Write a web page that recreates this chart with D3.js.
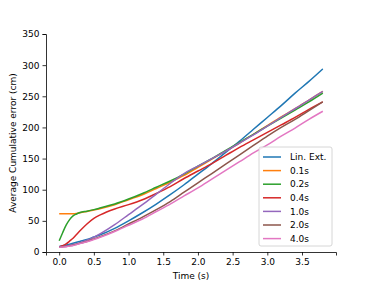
<!DOCTYPE html>
<html>
<head>
<meta charset="utf-8">
<script src="https://cdn.jsdelivr.net/npm/d3@7"></script>
<style>
  body { margin: 0; background: #fff; }
  text { font-family: "DejaVu Sans", sans-serif; }
</style>
</head>
<body>
<div id="container"></div>
<script>
var time = [0, 0.05, 0.1, 0.15, 0.2, 0.25, 0.3, 0.4, 0.5, 0.6, 0.8, 1.0, 1.2, 1.4, 1.6, 1.8, 2.0, 2.2, 2.4, 2.6, 2.8, 3.0, 3.2, 3.4, 3.6, 3.8];

var linExt = [9, 10, 11, 12.5, 14, 15.5, 17, 20, 24, 28, 38, 50, 63, 77, 92, 108, 125, 142, 160, 178, 197, 216, 235, 255, 274, 294];
var h01 = [61.5, 61.5, 61.5, 61.5, 61.5, 62, 63, 65, 67.5, 70, 76, 84, 92, 102, 112, 123, 136, 149, 162, 175, 189, 203, 217, 230, 244, 258];
var h02 = [18, 31, 43, 52, 58, 61, 63.5, 65.5, 68, 71, 77, 85, 94, 104, 114, 125, 138, 150, 163, 176, 189, 202, 215, 228, 241, 255];
var h04 = [8, 10, 13, 17.5, 22, 28, 34, 45, 54, 60, 69, 76, 84, 94, 105, 118, 130, 142, 155, 168, 180, 192, 204, 216, 229, 241];
var h10 = [8, 8.5, 9.5, 10.5, 12, 13, 15, 19, 24, 30, 44, 60, 76, 93, 110, 126, 138, 150, 162, 175, 188, 202, 216, 230, 244, 258];
var h20 = [8, 8.5, 9, 10, 11, 12.5, 14, 17, 21, 25, 34, 45, 56, 68, 81, 96, 111, 126, 141, 156, 171, 186, 200, 213, 227, 241];
var h40 = [7.5, 8, 8.5, 9.5, 10.5, 12, 13.5, 16.5, 20, 24, 33, 43, 53, 65, 77, 90, 103, 117, 131, 145, 159, 172, 186, 199, 213, 226];

var names = ["Lin. Ext.", "0.1s", "0.2s", "0.4s", "1.0s", "2.0s", "4.0s"];
var seriesValues = [linExt, h01, h02, h04, h10, h20, h40];
var colors = ["#1f77b4", "#ff7f0e", "#2ca02c", "#d62728", "#9467bd", "#8c564b", "#e377c2"];

var xTicks = [0, 0.5, 1.0, 1.5, 2.0, 2.5, 3.0, 3.5];
var yTicks = [0, 50, 100, 150, 200, 250, 300, 350];

var width = 374, height = 284;
var mLeft = 46, mRight = 336, mTop = 34, mBottom = 252;

var svg = d3.select("#container")
  .append("svg")
  .attr("width", width)
  .attr("height", height);

var x = d3.scaleLinear().domain([-0.19, 3.99]).range([mLeft, mRight]);
var y = d3.scaleLinear().domain([0, 350]).range([mBottom, mTop]);

// axes
svg.append("g")
  .attr("transform", "translate(0," + mBottom + ")")
  .call(d3.axisBottom(x).tickValues(xTicks).tickFormat(d3.format(".1f")).tickSizeOuter(0).tickSize(3.5).tickPadding(3));
svg.append("g")
  .attr("transform", "translate(" + mLeft + ",0)")
  .call(d3.axisLeft(y).tickValues(yTicks).tickSizeOuter(0).tickSize(3.5).tickPadding(3));

svg.selectAll(".tick text")
  .style("font-family", "DejaVu Sans")
  .style("font-size", "9px")
  .attr("fill", "#000");
svg.selectAll(".domain, .tick line").attr("stroke", "#000").attr("stroke-width", 0.8);

svg.append("text")
  .attr("x", (mLeft + mRight) / 2)
  .attr("y", 279)
  .attr("text-anchor", "middle")
  .style("font-size", "9px")
  .text("Time (s)");

svg.append("text")
  .attr("transform", "translate(16," + ((mTop + mBottom) / 2) + ") rotate(-90)")
  .attr("text-anchor", "middle")
  .style("font-size", "9px")
  .text("Average Cumulative error (cm)");

// lines
var line = d3.line()
  .x(function(d) { return x(d[0]); })
  .y(function(d) { return y(d[1]); })
  .curve(d3.curveMonotoneX);

seriesValues.forEach(function(vals, i) {
  var pts = time.map(function(t, j) { return [t, vals[j]]; });
  svg.append("path")
    .datum(pts)
    .attr("d", line)
    .attr("fill", "none")
    .attr("stroke", colors[i])
    .attr("stroke-width", 1.5);
});

// legend
var legend = svg.append("g");
legend.append("rect")
  .attr("x", 259).attr("y", 147)
  .attr("width", 73).attr("height", 99)
  .attr("rx", 2)
  .attr("fill", "#fff").attr("fill-opacity", 0.8)
  .attr("stroke", "#ccc").attr("stroke-width", 0.8);

names.forEach(function(n, i) {
  var yy = 157 + i * 13.6;
  legend.append("line")
    .attr("x1", 263).attr("x2", 281)
    .attr("y1", yy).attr("y2", yy)
    .attr("stroke", colors[i]).attr("stroke-width", 1.5);
  legend.append("text")
    .attr("x", 290).attr("y", yy + 3.2)
    .style("font-size", "9px")
    .text(n);
});
</script>
</body>
</html>
